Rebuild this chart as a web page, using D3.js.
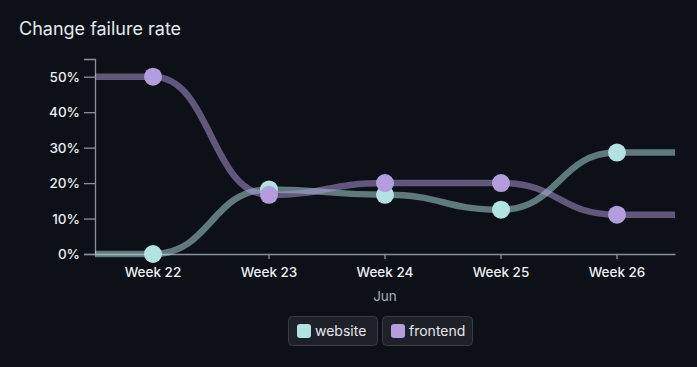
<!DOCTYPE html>
<html>
<head>
<meta charset="utf-8">
<script src="https://cdn.jsdelivr.net/npm/d3@7"></script>
<style>
  body { margin: 0; background: #0d1117; font-family: "Inter", "Noto Sans", sans-serif; }
  .title { fill: #e6e8eb; font-size: 18px; }
  .axis text { fill: #eceef1; font-size: 13.5px; font-weight: 500; font-family: "Inter", sans-serif; }
  .axis path, .axis line { stroke: #8b9098; stroke-width: 1.3; }
</style>
</head>
<body>
<svg id="chart" width="697" height="367"></svg>
<script>
const weeks = ["Week 22", "Week 23", "Week 24", "Week 25", "Week 26"];
const website = [0, 0.182, 0.167, 0.125, 0.286];
const frontend = [0.5, 0.167, 0.2, 0.2, 0.111];
const yTicks = [0, 0.1, 0.2, 0.3, 0.4, 0.5];

const series = [
    {name: "website", values: website, color: "#b2e3e1"},
    {name: "frontend", values: frontend, color: "#b39ddf"}
];

let width = 697, height = 367,
    plotLeft = 95, plotRight = 675, plotTop = 59, plotBottom = 254;

let svg = d3.select("#chart");

svg.append("text")
    .attr("class", "title")
    .attr("x", 19)
    .attr("y", 35)
    .text("Change failure rate");

let x = d3.scaleBand().domain(weeks).range([plotLeft, plotRight]);
let y = d3.scaleLinear().domain([0, 0.55]).range([plotBottom, plotTop]);

svg.append("g")
    .attr("class", "axis")
    .attr("transform", "translate(" + plotLeft + ",0)")
    .call(d3.axisLeft(y).tickValues(yTicks).tickFormat(d3.format(".0%")).tickSize(11).tickSizeOuter(11).tickPadding(4))
    .call(g => g.selectAll("text").attr("dy", "0.35em"));

svg.append("g")
    .attr("class", "axis")
    .attr("transform", "translate(0," + plotBottom + ")")
    .call(d3.axisBottom(x).tickSize(5).tickSizeOuter(0).tickPadding(8));

svg.append("text")
    .attr("x", (plotLeft + plotRight) / 2)
    .attr("y", 301)
    .attr("text-anchor", "middle")
    .attr("fill", "#a9adb3")
    .attr("font-size", 13.5)
    .text("Jun");

let line = d3.line()
    .x(d => d[0])
    .y(d => d[1])
    .curve(d3.curveBumpX);

series.forEach(s => {
    let pts = s.values.map((v, i) => [x(weeks[i]) + x.bandwidth() / 2, y(v)]);
    pts.unshift([plotLeft, y(s.values[0])]);
    pts.push([plotRight, y(s.values[s.values.length - 1])]);
    svg.append("path")
        .attr("d", line(pts))
        .attr("fill", "none")
        .attr("stroke", s.color)
        .attr("stroke-opacity", 0.5)
        .attr("stroke-width", 6.5);
});

series.forEach(s => {
    svg.append("g").selectAll("circle")
        .data(s.values)
        .enter().append("circle")
        .attr("cx", (d, i) => x(weeks[i]) + x.bandwidth() / 2)
        .attr("cy", d => y(d))
        .attr("r", 9)
        .attr("fill", s.color);
});

// legend
let legend = svg.append("g");
let lx = [288, 382], lw = [89, 90];
series.forEach((s, i) => {
    let g = legend.append("g").attr("transform", "translate(" + lx[i] + ",316)");
    g.append("rect")
        .attr("x", 0.5).attr("y", 0.5)
        .attr("width", lw[i]).attr("height", 29)
        .attr("rx", 4)
        .attr("fill", "#1e2128")
        .attr("stroke", "#373b43");
    g.append("rect")
        .attr("x", 9).attr("y", 8)
        .attr("width", 14).attr("height", 14)
        .attr("rx", 3)
        .attr("fill", s.color);
    g.append("text")
        .attr("x", 27).attr("y", 20)
        .attr("fill", "#e6e8eb")
        .attr("font-size", 14)
        .text(s.name);
});
</script>
</body>
</html>
